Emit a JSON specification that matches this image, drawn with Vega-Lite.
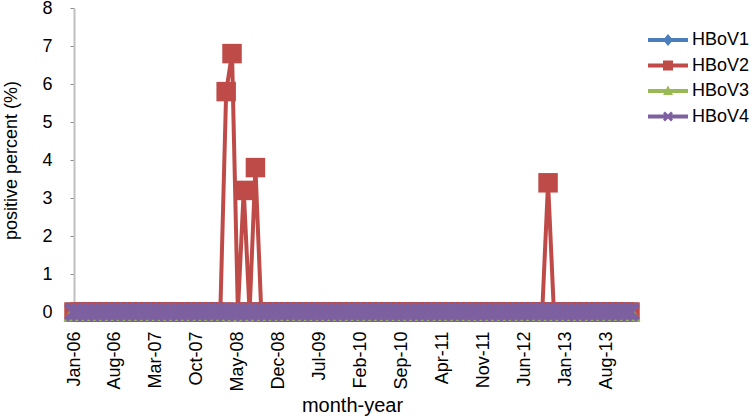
{
"$schema": "https://vega.github.io/schema/vega-lite/v6.json",
"width": 556, "height": 304,
"autosize": "none",
"padding": {"left": 74, "top": 8, "right": 125, "bottom": 106},
"background": "white",
"config": {"font": "Liberation Sans", "view": {"stroke": null},
  "legend": {"padding": 0, "labelFontSize": 18, "labelColor": "black", "labelOffset": 14, "symbolSize": 400, "rowPadding": 6.5, "symbolStrokeWidth": 0}},
"data": {"values": [
{"m":"Jan-06","s":"HBoV1","v":0},{"m":"Feb-06","s":"HBoV1","v":0},{"m":"Mar-06","s":"HBoV1","v":0},{"m":"Apr-06","s":"HBoV1","v":0},{"m":"May-06","s":"HBoV1","v":0},{"m":"Jun-06","s":"HBoV1","v":0},{"m":"Jul-06","s":"HBoV1","v":0},{"m":"Aug-06","s":"HBoV1","v":0},{"m":"Sep-06","s":"HBoV1","v":0},{"m":"Oct-06","s":"HBoV1","v":0},{"m":"Nov-06","s":"HBoV1","v":0},{"m":"Dec-06","s":"HBoV1","v":0},
{"m":"Jan-07","s":"HBoV1","v":0},{"m":"Feb-07","s":"HBoV1","v":0},{"m":"Mar-07","s":"HBoV1","v":0},{"m":"Apr-07","s":"HBoV1","v":0},{"m":"May-07","s":"HBoV1","v":0},{"m":"Jun-07","s":"HBoV1","v":0},{"m":"Jul-07","s":"HBoV1","v":0},{"m":"Aug-07","s":"HBoV1","v":0},{"m":"Sep-07","s":"HBoV1","v":0},{"m":"Oct-07","s":"HBoV1","v":0},{"m":"Nov-07","s":"HBoV1","v":0},{"m":"Dec-07","s":"HBoV1","v":0},
{"m":"Jan-08","s":"HBoV1","v":0},{"m":"Feb-08","s":"HBoV1","v":0},{"m":"Mar-08","s":"HBoV1","v":0},{"m":"Apr-08","s":"HBoV1","v":0},{"m":"May-08","s":"HBoV1","v":0},{"m":"Jun-08","s":"HBoV1","v":0},{"m":"Jul-08","s":"HBoV1","v":0},{"m":"Aug-08","s":"HBoV1","v":0},{"m":"Sep-08","s":"HBoV1","v":0},{"m":"Oct-08","s":"HBoV1","v":0},{"m":"Nov-08","s":"HBoV1","v":0},{"m":"Dec-08","s":"HBoV1","v":0},
{"m":"Jan-09","s":"HBoV1","v":0},{"m":"Feb-09","s":"HBoV1","v":0},{"m":"Mar-09","s":"HBoV1","v":0},{"m":"Apr-09","s":"HBoV1","v":0},{"m":"May-09","s":"HBoV1","v":0},{"m":"Jun-09","s":"HBoV1","v":0},{"m":"Jul-09","s":"HBoV1","v":0},{"m":"Aug-09","s":"HBoV1","v":0},{"m":"Sep-09","s":"HBoV1","v":0},{"m":"Oct-09","s":"HBoV1","v":0},{"m":"Nov-09","s":"HBoV1","v":0},{"m":"Dec-09","s":"HBoV1","v":0},
{"m":"Jan-10","s":"HBoV1","v":0},{"m":"Feb-10","s":"HBoV1","v":0},{"m":"Mar-10","s":"HBoV1","v":0},{"m":"Apr-10","s":"HBoV1","v":0},{"m":"May-10","s":"HBoV1","v":0},{"m":"Jun-10","s":"HBoV1","v":0},{"m":"Jul-10","s":"HBoV1","v":0},{"m":"Aug-10","s":"HBoV1","v":0},{"m":"Sep-10","s":"HBoV1","v":0},{"m":"Oct-10","s":"HBoV1","v":0},{"m":"Nov-10","s":"HBoV1","v":0},{"m":"Dec-10","s":"HBoV1","v":0},
{"m":"Jan-11","s":"HBoV1","v":0},{"m":"Feb-11","s":"HBoV1","v":0},{"m":"Mar-11","s":"HBoV1","v":0},{"m":"Apr-11","s":"HBoV1","v":0},{"m":"May-11","s":"HBoV1","v":0},{"m":"Jun-11","s":"HBoV1","v":0},{"m":"Jul-11","s":"HBoV1","v":0},{"m":"Aug-11","s":"HBoV1","v":0},{"m":"Sep-11","s":"HBoV1","v":0},{"m":"Oct-11","s":"HBoV1","v":0},{"m":"Nov-11","s":"HBoV1","v":0},{"m":"Dec-11","s":"HBoV1","v":0},
{"m":"Jan-12","s":"HBoV1","v":0},{"m":"Feb-12","s":"HBoV1","v":0},{"m":"Mar-12","s":"HBoV1","v":0},{"m":"Apr-12","s":"HBoV1","v":0},{"m":"May-12","s":"HBoV1","v":0},{"m":"Jun-12","s":"HBoV1","v":0},{"m":"Jul-12","s":"HBoV1","v":0},{"m":"Aug-12","s":"HBoV1","v":0},{"m":"Sep-12","s":"HBoV1","v":0},{"m":"Oct-12","s":"HBoV1","v":0},{"m":"Nov-12","s":"HBoV1","v":0},{"m":"Dec-12","s":"HBoV1","v":0},
{"m":"Jan-13","s":"HBoV1","v":0},{"m":"Feb-13","s":"HBoV1","v":0},{"m":"Mar-13","s":"HBoV1","v":0},{"m":"Apr-13","s":"HBoV1","v":0},{"m":"May-13","s":"HBoV1","v":0},{"m":"Jun-13","s":"HBoV1","v":0},{"m":"Jul-13","s":"HBoV1","v":0},{"m":"Aug-13","s":"HBoV1","v":0},{"m":"Sep-13","s":"HBoV1","v":0},{"m":"Oct-13","s":"HBoV1","v":0},{"m":"Nov-13","s":"HBoV1","v":0},{"m":"Dec-13","s":"HBoV1","v":0},
{"m":"Jan-06","s":"HBoV2","v":0},{"m":"Feb-06","s":"HBoV2","v":0},{"m":"Mar-06","s":"HBoV2","v":0},{"m":"Apr-06","s":"HBoV2","v":0},{"m":"May-06","s":"HBoV2","v":0},{"m":"Jun-06","s":"HBoV2","v":0},{"m":"Jul-06","s":"HBoV2","v":0},{"m":"Aug-06","s":"HBoV2","v":0},{"m":"Sep-06","s":"HBoV2","v":0},{"m":"Oct-06","s":"HBoV2","v":0},{"m":"Nov-06","s":"HBoV2","v":0},{"m":"Dec-06","s":"HBoV2","v":0},
{"m":"Jan-07","s":"HBoV2","v":0},{"m":"Feb-07","s":"HBoV2","v":0},{"m":"Mar-07","s":"HBoV2","v":0},{"m":"Apr-07","s":"HBoV2","v":0},{"m":"May-07","s":"HBoV2","v":0},{"m":"Jun-07","s":"HBoV2","v":0},{"m":"Jul-07","s":"HBoV2","v":0},{"m":"Aug-07","s":"HBoV2","v":0},{"m":"Sep-07","s":"HBoV2","v":0},{"m":"Oct-07","s":"HBoV2","v":0},{"m":"Nov-07","s":"HBoV2","v":0},{"m":"Dec-07","s":"HBoV2","v":0},
{"m":"Jan-08","s":"HBoV2","v":0},{"m":"Feb-08","s":"HBoV2","v":0},{"m":"Mar-08","s":"HBoV2","v":5.8},{"m":"Apr-08","s":"HBoV2","v":6.8},{"m":"May-08","s":"HBoV2","v":0},{"m":"Jun-08","s":"HBoV2","v":3.2},{"m":"Jul-08","s":"HBoV2","v":0},{"m":"Aug-08","s":"HBoV2","v":3.8},{"m":"Sep-08","s":"HBoV2","v":0},{"m":"Oct-08","s":"HBoV2","v":0},{"m":"Nov-08","s":"HBoV2","v":0},{"m":"Dec-08","s":"HBoV2","v":0},
{"m":"Jan-09","s":"HBoV2","v":0},{"m":"Feb-09","s":"HBoV2","v":0},{"m":"Mar-09","s":"HBoV2","v":0},{"m":"Apr-09","s":"HBoV2","v":0},{"m":"May-09","s":"HBoV2","v":0},{"m":"Jun-09","s":"HBoV2","v":0},{"m":"Jul-09","s":"HBoV2","v":0},{"m":"Aug-09","s":"HBoV2","v":0},{"m":"Sep-09","s":"HBoV2","v":0},{"m":"Oct-09","s":"HBoV2","v":0},{"m":"Nov-09","s":"HBoV2","v":0},{"m":"Dec-09","s":"HBoV2","v":0},
{"m":"Jan-10","s":"HBoV2","v":0},{"m":"Feb-10","s":"HBoV2","v":0},{"m":"Mar-10","s":"HBoV2","v":0},{"m":"Apr-10","s":"HBoV2","v":0},{"m":"May-10","s":"HBoV2","v":0},{"m":"Jun-10","s":"HBoV2","v":0},{"m":"Jul-10","s":"HBoV2","v":0},{"m":"Aug-10","s":"HBoV2","v":0},{"m":"Sep-10","s":"HBoV2","v":0},{"m":"Oct-10","s":"HBoV2","v":0},{"m":"Nov-10","s":"HBoV2","v":0},{"m":"Dec-10","s":"HBoV2","v":0},
{"m":"Jan-11","s":"HBoV2","v":0},{"m":"Feb-11","s":"HBoV2","v":0},{"m":"Mar-11","s":"HBoV2","v":0},{"m":"Apr-11","s":"HBoV2","v":0},{"m":"May-11","s":"HBoV2","v":0},{"m":"Jun-11","s":"HBoV2","v":0},{"m":"Jul-11","s":"HBoV2","v":0},{"m":"Aug-11","s":"HBoV2","v":0},{"m":"Sep-11","s":"HBoV2","v":0},{"m":"Oct-11","s":"HBoV2","v":0},{"m":"Nov-11","s":"HBoV2","v":0},{"m":"Dec-11","s":"HBoV2","v":0},
{"m":"Jan-12","s":"HBoV2","v":0},{"m":"Feb-12","s":"HBoV2","v":0},{"m":"Mar-12","s":"HBoV2","v":0},{"m":"Apr-12","s":"HBoV2","v":0},{"m":"May-12","s":"HBoV2","v":0},{"m":"Jun-12","s":"HBoV2","v":0},{"m":"Jul-12","s":"HBoV2","v":0},{"m":"Aug-12","s":"HBoV2","v":0},{"m":"Sep-12","s":"HBoV2","v":0},{"m":"Oct-12","s":"HBoV2","v":3.4},{"m":"Nov-12","s":"HBoV2","v":0},{"m":"Dec-12","s":"HBoV2","v":0},
{"m":"Jan-13","s":"HBoV2","v":0},{"m":"Feb-13","s":"HBoV2","v":0},{"m":"Mar-13","s":"HBoV2","v":0},{"m":"Apr-13","s":"HBoV2","v":0},{"m":"May-13","s":"HBoV2","v":0},{"m":"Jun-13","s":"HBoV2","v":0},{"m":"Jul-13","s":"HBoV2","v":0},{"m":"Aug-13","s":"HBoV2","v":0},{"m":"Sep-13","s":"HBoV2","v":0},{"m":"Oct-13","s":"HBoV2","v":0},{"m":"Nov-13","s":"HBoV2","v":0},{"m":"Dec-13","s":"HBoV2","v":0},
{"m":"Jan-06","s":"HBoV3","v":0},{"m":"Feb-06","s":"HBoV3","v":0},{"m":"Mar-06","s":"HBoV3","v":0},{"m":"Apr-06","s":"HBoV3","v":0},{"m":"May-06","s":"HBoV3","v":0},{"m":"Jun-06","s":"HBoV3","v":0},{"m":"Jul-06","s":"HBoV3","v":0},{"m":"Aug-06","s":"HBoV3","v":0},{"m":"Sep-06","s":"HBoV3","v":0},{"m":"Oct-06","s":"HBoV3","v":0},{"m":"Nov-06","s":"HBoV3","v":0},{"m":"Dec-06","s":"HBoV3","v":0},
{"m":"Jan-07","s":"HBoV3","v":0},{"m":"Feb-07","s":"HBoV3","v":0},{"m":"Mar-07","s":"HBoV3","v":0},{"m":"Apr-07","s":"HBoV3","v":0},{"m":"May-07","s":"HBoV3","v":0},{"m":"Jun-07","s":"HBoV3","v":0},{"m":"Jul-07","s":"HBoV3","v":0},{"m":"Aug-07","s":"HBoV3","v":0},{"m":"Sep-07","s":"HBoV3","v":0},{"m":"Oct-07","s":"HBoV3","v":0},{"m":"Nov-07","s":"HBoV3","v":0},{"m":"Dec-07","s":"HBoV3","v":0},
{"m":"Jan-08","s":"HBoV3","v":0},{"m":"Feb-08","s":"HBoV3","v":0},{"m":"Mar-08","s":"HBoV3","v":0},{"m":"Apr-08","s":"HBoV3","v":0},{"m":"May-08","s":"HBoV3","v":0},{"m":"Jun-08","s":"HBoV3","v":0},{"m":"Jul-08","s":"HBoV3","v":0},{"m":"Aug-08","s":"HBoV3","v":0},{"m":"Sep-08","s":"HBoV3","v":0},{"m":"Oct-08","s":"HBoV3","v":0},{"m":"Nov-08","s":"HBoV3","v":0},{"m":"Dec-08","s":"HBoV3","v":0},
{"m":"Jan-09","s":"HBoV3","v":0},{"m":"Feb-09","s":"HBoV3","v":0},{"m":"Mar-09","s":"HBoV3","v":0},{"m":"Apr-09","s":"HBoV3","v":0},{"m":"May-09","s":"HBoV3","v":0},{"m":"Jun-09","s":"HBoV3","v":0},{"m":"Jul-09","s":"HBoV3","v":0},{"m":"Aug-09","s":"HBoV3","v":0},{"m":"Sep-09","s":"HBoV3","v":0},{"m":"Oct-09","s":"HBoV3","v":0},{"m":"Nov-09","s":"HBoV3","v":0},{"m":"Dec-09","s":"HBoV3","v":0},
{"m":"Jan-10","s":"HBoV3","v":0},{"m":"Feb-10","s":"HBoV3","v":0},{"m":"Mar-10","s":"HBoV3","v":0},{"m":"Apr-10","s":"HBoV3","v":0},{"m":"May-10","s":"HBoV3","v":0},{"m":"Jun-10","s":"HBoV3","v":0},{"m":"Jul-10","s":"HBoV3","v":0},{"m":"Aug-10","s":"HBoV3","v":0},{"m":"Sep-10","s":"HBoV3","v":0},{"m":"Oct-10","s":"HBoV3","v":0},{"m":"Nov-10","s":"HBoV3","v":0},{"m":"Dec-10","s":"HBoV3","v":0},
{"m":"Jan-11","s":"HBoV3","v":0},{"m":"Feb-11","s":"HBoV3","v":0},{"m":"Mar-11","s":"HBoV3","v":0},{"m":"Apr-11","s":"HBoV3","v":0},{"m":"May-11","s":"HBoV3","v":0},{"m":"Jun-11","s":"HBoV3","v":0},{"m":"Jul-11","s":"HBoV3","v":0},{"m":"Aug-11","s":"HBoV3","v":0},{"m":"Sep-11","s":"HBoV3","v":0},{"m":"Oct-11","s":"HBoV3","v":0},{"m":"Nov-11","s":"HBoV3","v":0},{"m":"Dec-11","s":"HBoV3","v":0},
{"m":"Jan-12","s":"HBoV3","v":0},{"m":"Feb-12","s":"HBoV3","v":0},{"m":"Mar-12","s":"HBoV3","v":0},{"m":"Apr-12","s":"HBoV3","v":0},{"m":"May-12","s":"HBoV3","v":0},{"m":"Jun-12","s":"HBoV3","v":0},{"m":"Jul-12","s":"HBoV3","v":0},{"m":"Aug-12","s":"HBoV3","v":0},{"m":"Sep-12","s":"HBoV3","v":0},{"m":"Oct-12","s":"HBoV3","v":0},{"m":"Nov-12","s":"HBoV3","v":0},{"m":"Dec-12","s":"HBoV3","v":0},
{"m":"Jan-13","s":"HBoV3","v":0},{"m":"Feb-13","s":"HBoV3","v":0},{"m":"Mar-13","s":"HBoV3","v":0},{"m":"Apr-13","s":"HBoV3","v":0},{"m":"May-13","s":"HBoV3","v":0},{"m":"Jun-13","s":"HBoV3","v":0},{"m":"Jul-13","s":"HBoV3","v":0},{"m":"Aug-13","s":"HBoV3","v":0},{"m":"Sep-13","s":"HBoV3","v":0},{"m":"Oct-13","s":"HBoV3","v":0},{"m":"Nov-13","s":"HBoV3","v":0},{"m":"Dec-13","s":"HBoV3","v":0},
{"m":"Jan-06","s":"HBoV4","v":0},{"m":"Feb-06","s":"HBoV4","v":0},{"m":"Mar-06","s":"HBoV4","v":0},{"m":"Apr-06","s":"HBoV4","v":0},{"m":"May-06","s":"HBoV4","v":0},{"m":"Jun-06","s":"HBoV4","v":0},{"m":"Jul-06","s":"HBoV4","v":0},{"m":"Aug-06","s":"HBoV4","v":0},{"m":"Sep-06","s":"HBoV4","v":0},{"m":"Oct-06","s":"HBoV4","v":0},{"m":"Nov-06","s":"HBoV4","v":0},{"m":"Dec-06","s":"HBoV4","v":0},
{"m":"Jan-07","s":"HBoV4","v":0},{"m":"Feb-07","s":"HBoV4","v":0},{"m":"Mar-07","s":"HBoV4","v":0},{"m":"Apr-07","s":"HBoV4","v":0},{"m":"May-07","s":"HBoV4","v":0},{"m":"Jun-07","s":"HBoV4","v":0},{"m":"Jul-07","s":"HBoV4","v":0},{"m":"Aug-07","s":"HBoV4","v":0},{"m":"Sep-07","s":"HBoV4","v":0},{"m":"Oct-07","s":"HBoV4","v":0},{"m":"Nov-07","s":"HBoV4","v":0},{"m":"Dec-07","s":"HBoV4","v":0},
{"m":"Jan-08","s":"HBoV4","v":0},{"m":"Feb-08","s":"HBoV4","v":0},{"m":"Mar-08","s":"HBoV4","v":0},{"m":"Apr-08","s":"HBoV4","v":0},{"m":"May-08","s":"HBoV4","v":0},{"m":"Jun-08","s":"HBoV4","v":0},{"m":"Jul-08","s":"HBoV4","v":0},{"m":"Aug-08","s":"HBoV4","v":0},{"m":"Sep-08","s":"HBoV4","v":0},{"m":"Oct-08","s":"HBoV4","v":0},{"m":"Nov-08","s":"HBoV4","v":0},{"m":"Dec-08","s":"HBoV4","v":0},
{"m":"Jan-09","s":"HBoV4","v":0},{"m":"Feb-09","s":"HBoV4","v":0},{"m":"Mar-09","s":"HBoV4","v":0},{"m":"Apr-09","s":"HBoV4","v":0},{"m":"May-09","s":"HBoV4","v":0},{"m":"Jun-09","s":"HBoV4","v":0},{"m":"Jul-09","s":"HBoV4","v":0},{"m":"Aug-09","s":"HBoV4","v":0},{"m":"Sep-09","s":"HBoV4","v":0},{"m":"Oct-09","s":"HBoV4","v":0},{"m":"Nov-09","s":"HBoV4","v":0},{"m":"Dec-09","s":"HBoV4","v":0},
{"m":"Jan-10","s":"HBoV4","v":0},{"m":"Feb-10","s":"HBoV4","v":0},{"m":"Mar-10","s":"HBoV4","v":0},{"m":"Apr-10","s":"HBoV4","v":0},{"m":"May-10","s":"HBoV4","v":0},{"m":"Jun-10","s":"HBoV4","v":0},{"m":"Jul-10","s":"HBoV4","v":0},{"m":"Aug-10","s":"HBoV4","v":0},{"m":"Sep-10","s":"HBoV4","v":0},{"m":"Oct-10","s":"HBoV4","v":0},{"m":"Nov-10","s":"HBoV4","v":0},{"m":"Dec-10","s":"HBoV4","v":0},
{"m":"Jan-11","s":"HBoV4","v":0},{"m":"Feb-11","s":"HBoV4","v":0},{"m":"Mar-11","s":"HBoV4","v":0},{"m":"Apr-11","s":"HBoV4","v":0},{"m":"May-11","s":"HBoV4","v":0},{"m":"Jun-11","s":"HBoV4","v":0},{"m":"Jul-11","s":"HBoV4","v":0},{"m":"Aug-11","s":"HBoV4","v":0},{"m":"Sep-11","s":"HBoV4","v":0},{"m":"Oct-11","s":"HBoV4","v":0},{"m":"Nov-11","s":"HBoV4","v":0},{"m":"Dec-11","s":"HBoV4","v":0},
{"m":"Jan-12","s":"HBoV4","v":0},{"m":"Feb-12","s":"HBoV4","v":0},{"m":"Mar-12","s":"HBoV4","v":0},{"m":"Apr-12","s":"HBoV4","v":0},{"m":"May-12","s":"HBoV4","v":0},{"m":"Jun-12","s":"HBoV4","v":0},{"m":"Jul-12","s":"HBoV4","v":0},{"m":"Aug-12","s":"HBoV4","v":0},{"m":"Sep-12","s":"HBoV4","v":0},{"m":"Oct-12","s":"HBoV4","v":0},{"m":"Nov-12","s":"HBoV4","v":0},{"m":"Dec-12","s":"HBoV4","v":0},
{"m":"Jan-13","s":"HBoV4","v":0},{"m":"Feb-13","s":"HBoV4","v":0},{"m":"Mar-13","s":"HBoV4","v":0},{"m":"Apr-13","s":"HBoV4","v":0},{"m":"May-13","s":"HBoV4","v":0},{"m":"Jun-13","s":"HBoV4","v":0},{"m":"Jul-13","s":"HBoV4","v":0},{"m":"Aug-13","s":"HBoV4","v":0},{"m":"Sep-13","s":"HBoV4","v":0},{"m":"Oct-13","s":"HBoV4","v":0},{"m":"Nov-13","s":"HBoV4","v":0},{"m":"Dec-13","s":"HBoV4","v":0}
]},
"encoding": {
  "x": {"field": "m", "type": "ordinal", "sort": null, "scale": {"type": "point", "padding": 0},
    "axis": {"values": ["Jan-06","Aug-06","Mar-07","Oct-07","May-08","Dec-08","Jul-09","Feb-10","Sep-10","Apr-11","Nov-11","Jun-12","Jan-13","Aug-13"],
      "title": "month-year", "labelAngle": -90, "labelFontSize": 18, "labelColor": "black", "labelPadding": 19, "ticks": false, "domain": false, "labelOverlap": false,
      "titleFontSize": 20, "titleFontWeight": "normal", "titleColor": "black", "titleX": 278, "titleY": 93, "titleBaseline": "middle", "titleAlign": "center"}},
  "y": {"field": "v", "type": "quantitative", "scale": {"domain": [0, 8], "nice": false},
    "axis": {"values": [0,1,2,3,4,5,6,7,8], "title": "positive percent (%)", "grid": false, "domainColor": "#BFBFBF", "domainWidth": 2, "tickColor": "#8C8C8C", "tickSize": 4,
      "labelFontSize": 18, "labelColor": "black", "labelPadding": 18,
      "titleFontSize": 18, "titleFontWeight": "normal", "titleColor": "black", "titleX": -63, "titleY": 152, "titleBaseline": "middle", "titleAlign": "center", "titleAngle": -90}},
  "color": {"field": "s", "type": "nominal", "scale": {"domain": ["HBoV1","HBoV2","HBoV3","HBoV4"], "range": ["#4A7EBB","#BE4B48","#98B954","#7D60A0"]},
    "legend": {"orient": "none", "legendX": 584, "legendY": 22, "title": null,
      "encode": {"symbols": {"update": {"shape": {"signal": "datum.value === 'HBoV1' ? 'M-2,-0.2L2,-0.2L2,0.2L-2,0.2Z M0,-0.6L0.5,0L0,0.6L-0.5,0Z' : datum.value === 'HBoV2' ? 'M-2,-0.2L2,-0.2L2,0.2L-2,0.2Z M-0.5,-0.5L0.5,-0.5L0.5,0.5L-0.5,0.5Z' : datum.value === 'HBoV3' ? 'M-2,-0.2L2,-0.2L2,0.2L-2,0.2Z M0,-0.55L0.5,0.4L-0.5,0.4Z' : 'M-2,-0.2L2,-0.2L2,0.2L-2,0.2Z M-0.5,-0.3L-0.3,-0.5L0,-0.2L0.3,-0.5L0.5,-0.3L0.2,0L0.5,0.3L0.3,0.5L0,0.2L-0.3,0.5L-0.5,0.3L-0.2,0Z'"}, "fill": {"signal": "scale('color', datum.value)"}, "stroke": {"value": "transparent"}, "strokeWidth": {"value": 0}, "opacity": {"value": 1}, "size": {"value": 400}}}}}}
},
"layer": [
  {"mark": {"type": "line", "strokeWidth": 4}},
  {"transform": [{"filter": "datum.s === 'HBoV1'"}], "mark": {"type": "point", "filled": true, "opacity": 1, "shape": "diamond", "size": 260}},
  {"transform": [{"filter": "datum.s === 'HBoV2'"}], "mark": {"type": "point", "filled": true, "opacity": 1, "shape": "square", "size": 380}},
  {"transform": [{"filter": "datum.s === 'HBoV3'"}], "mark": {"type": "point", "filled": true, "opacity": 1, "shape": "triangle-up", "size": 440}},
  {"transform": [{"filter": "datum.s === 'HBoV4'"}], "mark": {"type": "point", "filled": true, "opacity": 1, "shape": "M-1,-0.6L-0.6,-1L0,-0.4L0.6,-1L1,-0.6L0.4,0L1,0.6L0.6,1L0,0.4L-0.6,1L-1,0.6L-0.4,0Z", "size": 400}}
]
}
